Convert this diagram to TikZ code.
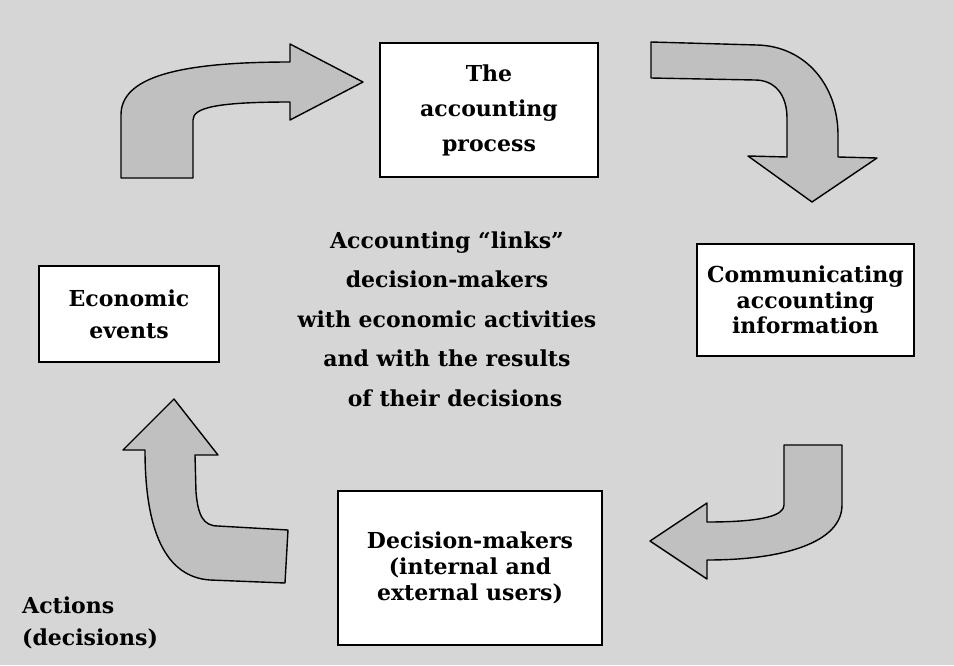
\documentclass[tikz,border=0pt]{standalone}
\usepackage{fontspec}
\setmainfont{DejaVu Serif}
\definecolor{bgc}{RGB}{214,214,214}
\definecolor{arrc}{RGB}{192,192,192}
\tikzset{
  box/.style={draw=black, line width=1.4pt, fill=white, align=center, inner sep=0pt},
  blockarrow/.style={draw=black, line width=1.4pt, fill=arrc, line join=round},
  lbl/.style={align=center, inner sep=0pt}
}
\newcommand{\fs}[1]{\bfseries\fontsize{22}{#1}\selectfont}
\begin{document}
\begin{tikzpicture}[x=1pt,y=-1pt]
\fill[bgc] (0,0) rectangle (954,665);
\useasboundingbox (0,0) rectangle (954,665);

% boxes
\node[box, minimum width=218pt, minimum height=134pt, font=\fs{35}] (proc) at (489,110) {The\\accounting\\process};
\node[box, minimum width=217pt, minimum height=112pt, font=\fs{25.5}] (comm) at (805.5,300) {Communicating\\accounting\\information};
\node[box, minimum width=180pt, minimum height=96pt, font=\fs{32}] (econ) at (129,314) {Economic\\events};
\node[box, minimum width=264pt, minimum height=154pt, font=\fs{26}] (dec) at (470,568) {Decision-makers\\(internal and\\external users)};

% centre text
\node[lbl, font=\fs{39.5}] (centre) at (447,319) {Accounting “links”\\decision-makers\\with economic activities\\and with the results\\\hspace*{16pt}of their decisions};
\node[lbl, align=left, anchor=west, font=\fs{32}] (act) at (22,623) {Actions\\(decisions)};

% block arrows
\draw[blockarrow] (121,178) -- (121,115) .. controls (121,78) and (175,62) .. (290,62)
  -- (290,44) -- (363,82) -- (290,120) -- (290,102)
  .. controls (215,102) and (193,108) .. (193,120) -- (193,178) -- cycle;

\draw[blockarrow] (651,42) -- (757,45) .. controls (805,46) and (838,85) .. (838,135)
  -- (838,157) -- (877,158) -- (812,202) -- (748,156) -- (787,157) -- (787,118)
  .. controls (787,95) and (775,80) .. (755,80) -- (651,78) -- cycle;

\draw[blockarrow] (784,445) -- (842,445) -- (842,505) .. controls (842,542) and (785,560) .. (707,560)
  -- (707,579) -- (650,541) -- (707,503) -- (707,522)
  .. controls (765,522) and (784,515) .. (784,505) -- cycle;

\draw[blockarrow] (288,530) -- (285,583) -- (210,580) .. controls (165,577) and (145,530) .. (145,450)
  -- (123,450) -- (174,399) -- (218,455) -- (195,455) -- (196,492)
  .. controls (198,515) and (203,526) .. (218,526) -- cycle;
\end{tikzpicture}
\end{document}
